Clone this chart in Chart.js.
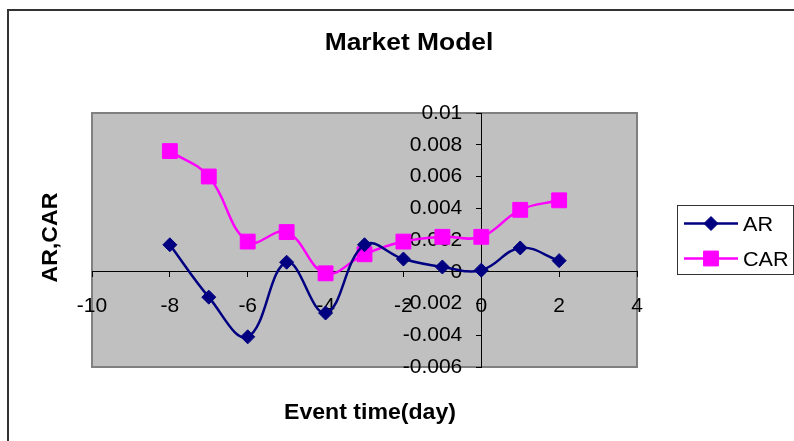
<!DOCTYPE html>
<html>
<head>
<meta charset="utf-8">
<script src="https://cdn.jsdelivr.net/npm/chart.js@4.4.1/dist/chart.umd.min.js"></script>
<style>
  html, body { margin: 0; padding: 0; background: #ffffff; }
  #wrap { position: relative; width: 794px; height: 441px; }
  canvas { display: block; }
</style>
</head>
<body>
<div id="wrap"><canvas id="chart" width="794" height="441"></canvas></div>
<script>
// Event window (days relative to the event)
const eventDays = [-8, -7, -6, -5, -4, -3, -2, -1, 0, 1, 2];
// Abnormal returns
const arValues = [0.0017, -0.0016, -0.0041, 0.0006, -0.0026, 0.0017, 0.0008, 0.0003, 0.0001, 0.0015, 0.0007];
// Cumulative abnormal returns
const carValues = [0.0076, 0.0060, 0.0019, 0.0025, -0.0001, 0.0011, 0.0019, 0.0022, 0.0022, 0.0039, 0.0045];

const xRange = { min: -10, max: 4, step: 2 };
const yRange = { min: -0.006, max: 0.01, step: 0.002 };

const chartTitle = 'Market Model';
const xTitle = 'Event time(day)';
const yTitle = 'AR,CAR';

const FONT = '"Liberation Sans", Arial, Helvetica, sans-serif';

function toPoints(xs, ys) {
  return xs.map((x, i) => ({ x: x, y: ys[i] }));
}

// Draws text stretched horizontally by sx around its anchor
function drawText(ctx, text, x, y, font, align, sx, angle) {
  ctx.save();
  ctx.font = font;
  ctx.fillStyle = '#000000';
  ctx.textBaseline = 'alphabetic';
  ctx.translate(x, y);
  if (angle) ctx.rotate(angle);
  ctx.scale(sx, 1);
  ctx.textAlign = align;
  ctx.fillText(text, 0, 0);
  ctx.restore();
}

// The value axis sits at x = 0; keep its labels clear of the tick marks
const Y_LABEL_GAP = 19;

const framePlugin = {
  id: 'excelFrame',
  beforeDraw(chart) {
    const ys = chart.scales.y;
    const items = ys.getLabelItems(chart.chartArea);
    items.forEach((it) => {
      if (!it._gapApplied) {
        it.options.translation[0] -= Y_LABEL_GAP;
        it._gapApplied = true;
      }
    });

    const ctx = chart.ctx;
    const a = chart.chartArea;
    ctx.save();
    // outer chart frame
    ctx.strokeStyle = '#333333';
    ctx.lineWidth = 2;
    ctx.beginPath();
    ctx.moveTo(8, 441);
    ctx.lineTo(8, 10);
    ctx.lineTo(794, 10);
    ctx.stroke();
    // plot area
    ctx.fillStyle = '#C0C0C0';
    ctx.fillRect(a.left, a.top, a.right - a.left, a.bottom - a.top);
    ctx.strokeStyle = '#808080';
    ctx.lineWidth = 2;
    ctx.strokeRect(a.left, a.top, a.right - a.left, a.bottom - a.top);
    ctx.restore();
  },
  afterDraw(chart) {
    const ctx = chart.ctx;
    drawText(ctx, chartTitle, 409, 49.5, 'bold 24px ' + FONT, 'center', 1.1);
    drawText(ctx, xTitle, 370, 418.5, 'bold 22px ' + FONT, 'center', 1.05);
    drawText(ctx, yTitle, 57, 237.5, 'bold 22px ' + FONT, 'center', 1.05, -Math.PI / 2);

    // legend
    ctx.save();
    ctx.strokeStyle = '#333333';
    ctx.lineWidth = 1;
    ctx.strokeRect(677.5, 205.5, 116, 69);
    chart.data.datasets.forEach((ds, i) => {
      const cy = 223.5 + i * 35;
      ctx.strokeStyle = ds.borderColor;
      ctx.lineWidth = ds.borderWidth;
      ctx.beginPath();
      ctx.moveTo(684, cy);
      ctx.lineTo(738, cy);
      ctx.stroke();
      ctx.fillStyle = ds.backgroundColor;
      ctx.lineWidth = 1;
      Chart.helpers.drawPoint(ctx, {
        pointStyle: ds.pointStyle,
        radius: ds.pointRadius,
        borderWidth: 1
      }, 711, cy);
      drawText(ctx, ds.label, 743, cy + 7, '20px ' + FONT, 'left', 1.08);
    });
    ctx.restore();
  }
};

const ctx = document.getElementById('chart').getContext('2d');
new Chart(ctx, {
  type: 'scatter',
  data: {
    datasets: [
      {
        label: 'AR',
        data: toPoints(eventDays, arValues),
        showLine: true,
        borderColor: '#000080',
        backgroundColor: '#000080',
        borderWidth: 2.5,
        pointStyle: 'rectRot',
        pointRadius: 7,
        pointHoverRadius: 7,
        pointBorderWidth: 1,
        tension: 0.4
      },
      {
        label: 'CAR',
        data: toPoints(eventDays, carValues),
        showLine: true,
        borderColor: '#FF00FF',
        backgroundColor: '#FF00FF',
        borderWidth: 2.5,
        pointStyle: 'rect',
        pointRadius: 10.5,
        pointHoverRadius: 10.5,
        pointBorderWidth: 1,
        tension: 0.4
      }
    ]
  },
  options: {
    responsive: false,
    animation: false,
    devicePixelRatio: 1,
    events: [],
    layout: { padding: { left: 92, right: 157, top: 113, bottom: 74 } },
    plugins: {
      legend: { display: false },
      title: { display: false },
      tooltip: { enabled: false }
    },
    scales: {
      x: {
        type: 'linear',
        position: { y: 0 },
        min: xRange.min,
        max: xRange.max,
        grid: { drawOnChartArea: false, drawTicks: true, tickLength: 5, color: '#000000' },
        border: { display: true, color: '#000000', width: 1 },
        ticks: {
          stepSize: xRange.step,
          autoSkip: false,
          maxRotation: 0,
          padding: 17,
          color: '#000000',
          font: { family: FONT, size: 21 }
        }
      },
      y: {
        type: 'linear',
        position: { x: 0 },
        min: yRange.min,
        max: yRange.max,
        grid: { drawOnChartArea: false, drawTicks: true, tickLength: 5, color: '#000000' },
        border: { display: true, color: '#000000', width: 1 },
        ticks: {
          stepSize: yRange.step,
          autoSkip: false,
          padding: 14,
          color: '#000000',
          font: { family: FONT, size: 21 },
          callback: (v) => String(Number(v.toFixed(3)))
        }
      }
    }
  },
  plugins: [framePlugin]
});
</script>
</body>
</html>
